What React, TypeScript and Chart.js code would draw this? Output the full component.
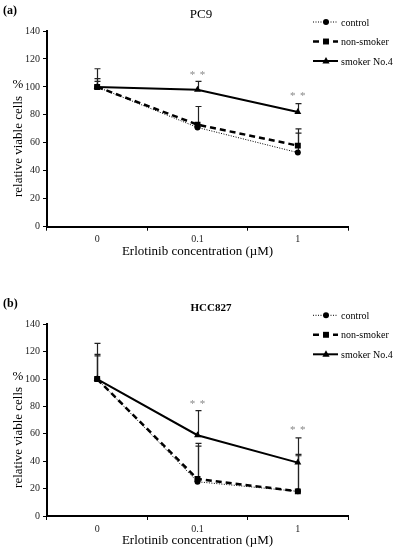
import React, { useEffect, useRef } from 'react';
import { Chart, registerables } from 'chart.js';

Chart.register(...registerables);

const FONT = "'Liberation Serif', 'Times New Roman', serif";

const categories = ['0', '0.1', '1'];
const seriesNames = ['control', 'non-smoker', 'smoker No.4'];

// Panel (a) PC9
const pc9Control = [100, 71, 53];
const pc9NonSmoker = [100, 73, 58];
const pc9Smoker = [100, 98, 82];
const pc9ControlErr = [4, 2, 14];
const pc9NonSmokerErr = [6, 13, 12];
const pc9SmokerErr = [13, 6, 6];
const pc9Stars: (number | null)[] = [null, 110, 95];

// Panel (b) HCC827
const hccControl = [100, 25, 18];
const hccNonSmoker = [100, 27, 18];
const hccSmoker = [100, 59, 39];
const hccControlErr = [17, 26, 26];
const hccNonSmokerErr = [18, 26, 27];
const hccSmokerErr = [26, 18, 18];
const hccStars: (number | null)[] = [null, 83, 64.5];

const yMin = 0;
const yMax = 140;
const yStep = 20;

const xTitle = 'Erlotinib concentration (\u00b5M)';
const yTitle = 'relative viable cells';

const seriesStyles = [
  { width: 1, dash: [1, 1.5], point: 'circle', radius: 3 },
  { width: 2.5, dash: [6, 4], point: 'rect', radius: 4.2 },
  { width: 2, dash: [] as number[], point: 'triangle', radius: 4 },
];

function drawMarker(ctx: CanvasRenderingContext2D, style: string, x: number, y: number, r: number) {
  ctx.save();
  ctx.fillStyle = '#000';
  ctx.beginPath();
  if (style === 'circle') {
    ctx.arc(x, y, r, 0, Math.PI * 2);
  } else if (style === 'rect') {
    const s = Math.SQRT1_2 * r;
    ctx.rect(x - s, y - s, 2 * s, 2 * s);
  } else {
    ctx.moveTo(x, y - r);
    ctx.lineTo(x + r * 0.9, y + r * 0.6);
    ctx.lineTo(x - r * 0.9, y + r * 0.6);
    ctx.closePath();
  }
  ctx.fill();
  ctx.restore();
}

type PanelCfg = {
  label: string;
  title: string;
  titleBold: boolean;
  titleX: number;
  padTop: number;
  xHeight: number;
  values: number[][];
  errors: number[][];
  stars: (number | null)[];
};

function makePlugin(cfg: PanelCfg) {
  return {
    id: 'decor',
    beforeDatasetsDraw(chart: any) {
      const ctx: CanvasRenderingContext2D = chart.ctx;
      const ys = chart.scales.y;
      ctx.save();
      ctx.strokeStyle = '#222';
      ctx.lineWidth = 1.2;
      cfg.values.forEach((vals, i) => {
        const meta = chart.getDatasetMeta(i);
        vals.forEach((v, j) => {
          const el = meta.data[j];
          const x = Math.round(el.x) + 0.5;
          const y0 = ys.getPixelForValue(v);
          const y1 = ys.getPixelForValue(v + cfg.errors[i][j]);
          ctx.beginPath();
          ctx.moveTo(x, y0);
          ctx.lineTo(x, y1);
          ctx.moveTo(x - 3, y1);
          ctx.lineTo(x + 3, y1);
          ctx.stroke();
        });
      });
      ctx.restore();
    },
    afterDraw(chart: any) {
      const ctx: CanvasRenderingContext2D = chart.ctx;
      const area = chart.chartArea;
      const xs = chart.scales.x;
      const ys = chart.scales.y;
      ctx.save();
      // asterisks
      ctx.fillStyle = '#888';
      ctx.font = `11px ${FONT}`;
      ctx.textAlign = 'center';
      ctx.textBaseline = 'middle';
      cfg.stars.forEach((s, j) => {
        if (s === null) return;
        const x = xs.getPixelForValue(j);
        const y = ys.getPixelForValue(s) + 2;
        ctx.fillText('*', x - 5, y);
        ctx.fillText('*', x + 5, y);
      });
      // legend
      ctx.fillStyle = '#000';
      ctx.font = `10px ${FONT}`;
      ctx.textAlign = 'left';
      seriesNames.forEach((name, i) => {
        const st = seriesStyles[i];
        const y = area.top - 9 + i * 19.5;
        ctx.save();
        ctx.strokeStyle = '#000';
        ctx.lineWidth = st.width;
        ctx.setLineDash(st.dash);
        ctx.beginPath();
        ctx.moveTo(313, y);
        ctx.lineTo(338, y);
        ctx.stroke();
        ctx.restore();
        drawMarker(ctx, st.point, 326, y, st.radius);
        ctx.fillStyle = '#000';
        ctx.fillText(name, 341, y + 1);
      });
      // title
      ctx.textAlign = 'center';
      ctx.font = `${cfg.titleBold ? 'bold 11px' : '13px'} ${FONT}`;
      ctx.fillText(cfg.title, cfg.titleX, area.top - 16);
      // panel label
      ctx.textAlign = 'left';
      ctx.font = `bold 12px ${FONT}`;
      ctx.fillText(cfg.label, 3, area.top - 20);
      // x title
      ctx.textAlign = 'center';
      ctx.font = `13px ${FONT}`;
      ctx.fillText(xTitle, (area.left + area.right) / 2, area.bottom + 25);
      // y title
      const h = area.bottom - area.top;
      ctx.save();
      ctx.translate(19, area.top + 0.59 * h);
      ctx.rotate(-Math.PI / 2);
      ctx.fillText(yTitle, 0, 0);
      ctx.restore();
      ctx.font = `13px ${FONT}`;
      ctx.fillText('%', 18, area.top + 0.275 * h);
      ctx.restore();
    },
  };
}

function Panel({ cfg, top }: { cfg: PanelCfg; top: number }) {
  const ref = useRef<HTMLCanvasElement>(null);
  useEffect(() => {
    if (!ref.current) return;
    const tickFont = { family: FONT, size: 10 };
    const chart = new Chart(ref.current, {
      type: 'line',
      data: {
        labels: categories,
        datasets: cfg.values.map((vals, i) => ({
          label: seriesNames[i],
          data: vals,
          borderColor: '#000',
          backgroundColor: '#000',
          borderWidth: seriesStyles[i].width,
          borderDash: seriesStyles[i].dash,
          pointStyle: seriesStyles[i].point as any,
          pointRadius: seriesStyles[i].radius,
          pointBackgroundColor: '#000',
          pointBorderColor: '#000',
          pointBorderWidth: 0,
          tension: 0,
          fill: false,
        })),
      },
      options: {
        responsive: false,
        animation: false,
        devicePixelRatio: 1,
        layout: { padding: { top: cfg.padTop, right: 45, left: 0, bottom: 0 } },
        plugins: {
          legend: { display: false },
          tooltip: { enabled: false },
          title: { display: false },
        },
        scales: {
          x: {
            type: 'category',
            offset: true,
            grid: {
              display: true,
              drawOnChartArea: false,
              drawTicks: true,
              tickLength: 4,
              color: '#000',
              offset: true,
            },
            border: { display: true, color: '#000', width: 2 },
            ticks: { font: tickFont, color: '#222', padding: 3, maxRotation: 0 },
            afterFit: (s: any) => {
              s.height = cfg.xHeight;
            },
          },
          y: {
            min: yMin,
            max: yMax,
            ticks: { stepSize: yStep, font: tickFont, color: '#222', padding: 3 },
            grid: {
              display: true,
              drawOnChartArea: false,
              drawTicks: true,
              tickLength: 4,
              color: '#000',
            },
            border: { display: true, color: '#000', width: 2 },
            afterFit: (s: any) => {
              s.width = 47;
            },
          },
        },
      },
      plugins: [makePlugin(cfg)],
    });
    return () => chart.destroy();
  }, []);
  return (
    <canvas
      ref={ref}
      width={393}
      height={275}
      style={{ position: 'absolute', left: 0, top, width: 393, height: 275 }}
    />
  );
}

const panelA: PanelCfg = {
  label: '(a)',
  title: 'PC9',
  titleBold: false,
  titleX: 201,
  padTop: 31,
  xHeight: 48.3,
  values: [pc9Control, pc9NonSmoker, pc9Smoker],
  errors: [pc9ControlErr, pc9NonSmokerErr, pc9SmokerErr],
  stars: pc9Stars,
};

const panelB: PanelCfg = {
  label: '(b)',
  title: 'HCC827',
  titleBold: true,
  titleX: 211,
  padTop: 49.3,
  xHeight: 34,
  values: [hccControl, hccNonSmoker, hccSmoker],
  errors: [hccControlErr, hccNonSmokerErr, hccSmokerErr],
  stars: hccStars,
};

export default function App() {
  return (
    <div style={{ position: 'absolute', left: 0, top: 0, width: 393, height: 550, background: '#fff' }}>
      <Panel cfg={panelA} top={0} />
      <Panel cfg={panelB} top={275} />
    </div>
  );
}
